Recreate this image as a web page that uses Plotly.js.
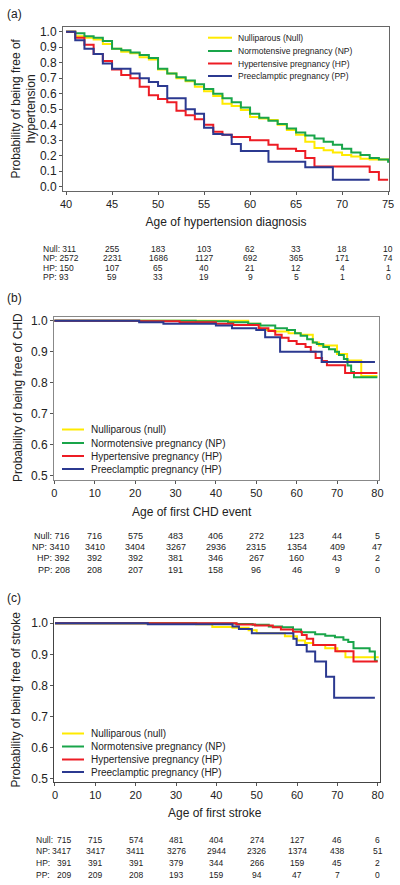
<!DOCTYPE html>
<html>
<head>
<meta charset="utf-8">
<script src="https://cdn.plot.ly/plotly-3.0.1.min.js"></script>
<style>
  html, body { margin: 0; padding: 0; background: #fff; }
  #chart { width: 400px; height: 885px; }
</style>
</head>
<body>
<div id="chart"></div>
<script>
// ---------- Panel (a): hypertension ----------
const ageA_null = [40,41,42,43,44,45,46,47,48,49,50,51,52,53,54,55,56,57,58,59,60,61,62,63,64,65,66,67,68,69,70,71,72,73,74,75];
const survA_null = [1.0,0.97,0.96,0.95,0.92,0.89,0.87,0.86,0.835,0.82,0.755,0.73,0.70,0.68,0.645,0.615,0.585,0.535,0.52,0.495,0.45,0.44,0.43,0.40,0.365,0.335,0.29,0.25,0.235,0.22,0.205,0.195,0.18,0.175,0.175,0.17];
const ageA_np = [40,41,42,43,44,45,46,47,48,49,50,51,52,53,54,55,56,57,58,59,60,61,62,63,64,65,66,67,68,69,70,71,72,73,74,75];
const survA_np = [1.0,0.99,0.97,0.96,0.94,0.89,0.88,0.865,0.85,0.83,0.76,0.73,0.705,0.685,0.66,0.63,0.60,0.57,0.545,0.51,0.47,0.445,0.425,0.405,0.375,0.35,0.33,0.31,0.29,0.27,0.245,0.22,0.205,0.185,0.175,0.155];
const ageA_hp = [40,41,42,43,44,45,46,47,48,49,50,51,52,53,54,55,56,57,58,60,62,63,65,66,67,73,74,75];
const survA_hp = [1.0,0.96,0.915,0.855,0.81,0.755,0.72,0.70,0.645,0.59,0.565,0.545,0.49,0.46,0.435,0.40,0.355,0.335,0.32,0.30,0.27,0.245,0.23,0.185,0.13,0.095,0.045,0.045];
const ageA_pp = [40,41,42,43,44,45,47,48,49,50,51,53,54,55,56,57,58,59,62,66,69,73];
const survA_pp = [1.0,0.945,0.89,0.855,0.795,0.76,0.73,0.70,0.675,0.65,0.57,0.50,0.47,0.38,0.34,0.335,0.275,0.23,0.16,0.125,0.045,0.045];

const riskA_ages = [40,45,50,55,60,65,70,75];
const riskA_null = [311,255,183,103,62,33,18,10];
const riskA_np   = [2572,2231,1686,1127,692,365,171,74];
const riskA_hp   = [150,107,65,40,21,12,4,1];
const riskA_pp   = [93,59,33,19,9,5,1,0];

// ---------- Panel (b): CHD ----------
const ageB_null = [0,48,51,54.5,58,61,64,65.5,70,72.5,76,80];
const survB_null = [1.0,0.99,0.97,0.965,0.96,0.955,0.93,0.92,0.893,0.872,0.822,0.822];
const ageB_np = [0,35,43,48,51,54.7,57.6,59.6,61,62.6,64,65,66.6,68,69.5,70.5,71.7,72.6,73.5,74.2,80];
const survB_np = [1.0,0.998,0.995,0.99,0.985,0.976,0.97,0.96,0.952,0.94,0.93,0.925,0.915,0.908,0.90,0.89,0.877,0.856,0.835,0.818,0.818];
const ageB_hp = [0,21,31,40,44.3,50.6,53,54.7,56.3,58,60,62.2,63.5,64.7,66.3,67.5,72,80];
const survB_hp = [1.0,0.998,0.995,0.99,0.986,0.976,0.967,0.955,0.945,0.935,0.925,0.915,0.90,0.88,0.87,0.857,0.832,0.832];
const ageB_pp = [0,21,27,40,44,50,52.2,55.9,66.2,79.4];
const survB_pp = [1.0,0.995,0.99,0.985,0.976,0.97,0.947,0.90,0.867,0.867];

const riskB_ages = [0,10,20,30,40,50,60,70,80];
const riskB_null = [716,716,575,483,406,272,123,44,5];
const riskB_np   = [3410,3410,3404,3267,2936,2315,1354,409,47];
const riskB_hp   = [392,392,392,381,346,267,160,43,2];
const riskB_pp   = [208,208,207,191,158,96,46,9,0];

// ---------- Panel (c): stroke ----------
const ageC_null = [0,35,39,44,48,50,57,60,62,64,67,70,72,80];
const survC_null = [1.0,0.997,0.988,0.986,0.978,0.968,0.958,0.945,0.937,0.93,0.92,0.91,0.891,0.888];
const ageC_np = [0,35,45,49,53,56.3,59,61,64.5,67,69.4,71.5,72.7,74,78,79.3,80];
const survC_np = [1.0,0.999,0.998,0.995,0.99,0.987,0.98,0.971,0.965,0.96,0.955,0.947,0.94,0.92,0.909,0.88,0.88];
const ageC_hp = [0,45,49.6,54,56,59,61.2,62.4,64,69.5,74,80];
const survC_hp = [1.0,0.996,0.993,0.987,0.98,0.973,0.962,0.95,0.93,0.91,0.877,0.877];
const ageC_pp = [0,23,44,45.6,48.8,59.1,59.9,62.4,64.5,67.2,69.2,79.3];
const survC_pp = [1.0,0.997,0.99,0.982,0.968,0.95,0.93,0.909,0.877,0.828,0.761,0.761];

const riskC_ages = [0,10,20,30,40,50,60,70,80];
const riskC_null = [715,715,574,481,404,274,127,46,6];
const riskC_np   = [3417,3417,3411,3276,2944,2326,1374,438,51];
const riskC_hp   = [391,391,391,379,344,266,159,45,2];
const riskC_pp   = [209,209,208,193,159,94,47,7,0];

const groupCodes = ['Null','NP','HP','PP'];
const legendA = ['Nulliparous (Null)','Normotensive pregnancy (NP)','Hypertensive pregnancy (HP)','Preeclamptic pregnancy (PP)'];
const legendBC = ['Nulliparous (null)','Normotensive pregnancy (NP)','Hypertensive pregnancy (HP)','Preeclamptic pregnancy (HP)'];
const colors = ['#FFEA00','#19A54A','#ED1C24','#2B3990'];

// ---------- helpers (layout only) ----------
const FONT = 'Liberation Sans, Arial, Helvetica, sans-serif';
const TXT = '#222';
const px = p => p / 400;
const py = p => 1 - p / 885;

const traces = [];
function addPanel(xs, ys, xa, ya, names) {
  for (let i = 0; i < 4; i++) {
    traces.push({
      type: 'scatter', mode: 'lines', x: xs[i], y: ys[i],
      xaxis: xa, yaxis: ya, name: names[i], showlegend: false,
      line: {color: colors[i], width: 2, shape: 'hv'}, hoverinfo: 'skip'
    });
  }
}
addPanel([ageA_null,ageA_np,ageA_hp,ageA_pp],[survA_null,survA_np,survA_hp,survA_pp],'x','y',legendA);
addPanel([ageB_null,ageB_np,ageB_hp,ageB_pp],[survB_null,survB_np,survB_hp,survB_pp],'x2','y2',legendBC);
addPanel([ageC_null,ageC_np,ageC_hp,ageC_pp],[survC_null,survC_np,survC_hp,survC_pp],'x3','y3',legendBC);

const annotations = [];
const shapes = [];

function ann(o, size) {
  annotations.push(Object.assign({showarrow: false, font: {family: FONT, size: size || 8.5, color: TXT}}, o));
}

// legends
function drawLegend(names, lineX0, lineX1, textX, rowsY, fsize) {
  for (let i = 0; i < 4; i++) {
    shapes.push({type: 'line', xref: 'paper', yref: 'paper',
      x0: px(lineX0), x1: px(lineX1), y0: py(rowsY[i]), y1: py(rowsY[i]),
      line: {color: colors[i], width: 2}});
    ann({xref: 'paper', yref: 'paper', x: px(textX), y: py(rowsY[i]), xanchor: 'left', yanchor: 'middle',
      text: names[i]}, fsize);
  }
}
drawLegend(legendA, 208, 232, 236, [37.7, 51, 63.5, 76], 8.5);
drawLegend(legendBC, 62, 84, 89, [429.5, 443, 456, 469], 10);
drawLegend(legendBC, 62, 84, 89, [733.5, 746.5, 759.5, 772], 10);

// at-risk tables
const riskA = [riskA_null, riskA_np, riskA_hp, riskA_pp];
const rowsA = [249, 258.3, 267.7, 277];
for (let r = 0; r < 4; r++) {
  ann({xref: 'paper', yref: 'paper', x: px(41), y: py(rowsA[r]), xanchor: 'left', yanchor: 'middle',
    text: groupCodes[r] + ': ' + riskA[r][0]}, 8.5);
  for (let c = 1; c < riskA_ages.length; c++) {
    ann({xref: 'x', yref: 'paper', x: riskA_ages[c], y: py(rowsA[r]), xanchor: 'center', yanchor: 'middle',
      text: String(riskA[r][c])}, 8.5);
  }
}
const riskB = [riskB_null, riskB_np, riskB_hp, riskB_pp];
const rowsB = [536, 547.3, 558.4, 569.5];
for (let r = 0; r < 4; r++) {
  ann({xref: 'paper', yref: 'paper', x: px(72), y: py(rowsB[r]), xanchor: 'right', yanchor: 'middle',
    text: groupCodes[r] + ': ' + riskB[r][0]}, 9);
  for (let c = 1; c < riskB_ages.length; c++) {
    ann({xref: 'x2', yref: 'paper', x: riskB_ages[c], y: py(rowsB[r]), xanchor: 'center', yanchor: 'middle',
      text: String(riskB[r][c])}, 9);
  }
}
const riskC = [riskC_null, riskC_np, riskC_hp, riskC_pp];
const rowsC = [839.5, 851, 863, 875];
for (let r = 0; r < 4; r++) {
  ann({xref: 'paper', yref: 'paper', x: px(34), y: py(rowsC[r]), xanchor: 'left', yanchor: 'middle',
    text: groupCodes[r] + ':'}, 8.5);
  ann({xref: 'paper', yref: 'paper', x: px(73), y: py(rowsC[r]), xanchor: 'right', yanchor: 'middle',
    text: String(riskC[r][0])}, 8.5);
  for (let c = 1; c < riskC_ages.length; c++) {
    ann({xref: 'x3', yref: 'paper', x: riskC_ages[c], y: py(rowsC[r]), xanchor: 'center', yanchor: 'middle',
      text: String(riskC[r][c])}, 8.5);
  }
}

// panel labels
[['(a)', 14], ['(b)', 298], ['(c)', 598]].forEach(([t, y]) => {
  ann({xref: 'paper', yref: 'paper', x: px(5), y: py(y), xanchor: 'left', yanchor: 'middle', text: t}, 12);
});

// axis titles drawn as annotations where exact placement matters
ann({xref: 'paper', yref: 'paper', x: px(192), y: py(512), xanchor: 'center', yanchor: 'middle',
  text: 'Age of first CHD event'}, 12);
ann({xref: 'paper', yref: 'paper', x: px(215), y: py(813), xanchor: 'center', yanchor: 'middle',
  text: 'Age of first stroke'}, 12);
ann({xref: 'paper', yref: 'paper', x: px(23.5), y: py(109), xanchor: 'center', yanchor: 'middle', textangle: -90,
  text: 'Probability of being free of<br>hypertension'}, 12);
ann({xref: 'paper', yref: 'paper', x: px(18), y: py(398), xanchor: 'center', yanchor: 'middle', textangle: -90,
  text: 'Probability of being free of CHD'}, 12);
ann({xref: 'paper', yref: 'paper', x: px(15.5), y: py(700), xanchor: 'center', yanchor: 'middle', textangle: -90,
  text: 'Probability of being free of stroke'}, 12);

function axisBase(lineColor, tickSize) {
  return {
    showline: true, mirror: true, linecolor: lineColor, linewidth: 1,
    ticks: 'outside', ticklen: 3, tickwidth: 1, tickcolor: '#555',
    showgrid: false, zeroline: false, fixedrange: true,
    tickfont: {family: FONT, size: tickSize, color: TXT}
  };
}
const titleFont = {family: FONT, size: 12, color: TXT};

const layout = {
  width: 400, height: 885,
  margin: {l: 0, r: 0, t: 0, b: 0},
  paper_bgcolor: '#fff', plot_bgcolor: '#fff',
  showlegend: false,
  font: {family: FONT, color: TXT},
  xaxis: Object.assign(axisBase('#666', 11), {
    domain: [px(63), px(389)], anchor: 'y', range: [39.67, 75.1], tick0: 40, dtick: 5,
    title: {text: 'Age of hypertension diagnosis', font: titleFont, standoff: 8}
  }),
  yaxis: Object.assign(axisBase('#666', 12), {
    domain: [py(191), py(27.3)], anchor: 'x', range: [-0.028, 1.028], tick0: 0, dtick: 0.1, tickformat: '.1f'
  }),
  xaxis2: Object.assign(axisBase('#888', 11), {
    domain: [px(54), px(379)], anchor: 'y2', range: [-0.1, 80.4], tick0: 0, dtick: 10
  }),
  yaxis2: Object.assign(axisBase('#888', 12), {
    domain: [py(480), py(316.7)], anchor: 'x2', range: [0.487, 1.013], tick0: 0.5, dtick: 0.1, tickformat: '.1f'
  }),
  xaxis3: Object.assign(axisBase('#444', 11), {
    domain: [px(54.3), px(380)], anchor: 'y3', range: [-0.17, 80.57], tick0: 0, dtick: 10
  }),
  yaxis3: Object.assign(axisBase('#444', 12), {
    domain: [py(781.7), py(618.3)], anchor: 'x3', range: [0.491, 1.016], tick0: 0.5, dtick: 0.1, tickformat: '.1f'
  }),
  annotations: annotations,
  shapes: shapes
};

Plotly.newPlot('chart', traces, layout, {displayModeBar: false, staticPlot: true});
</script>
</body>
</html>
